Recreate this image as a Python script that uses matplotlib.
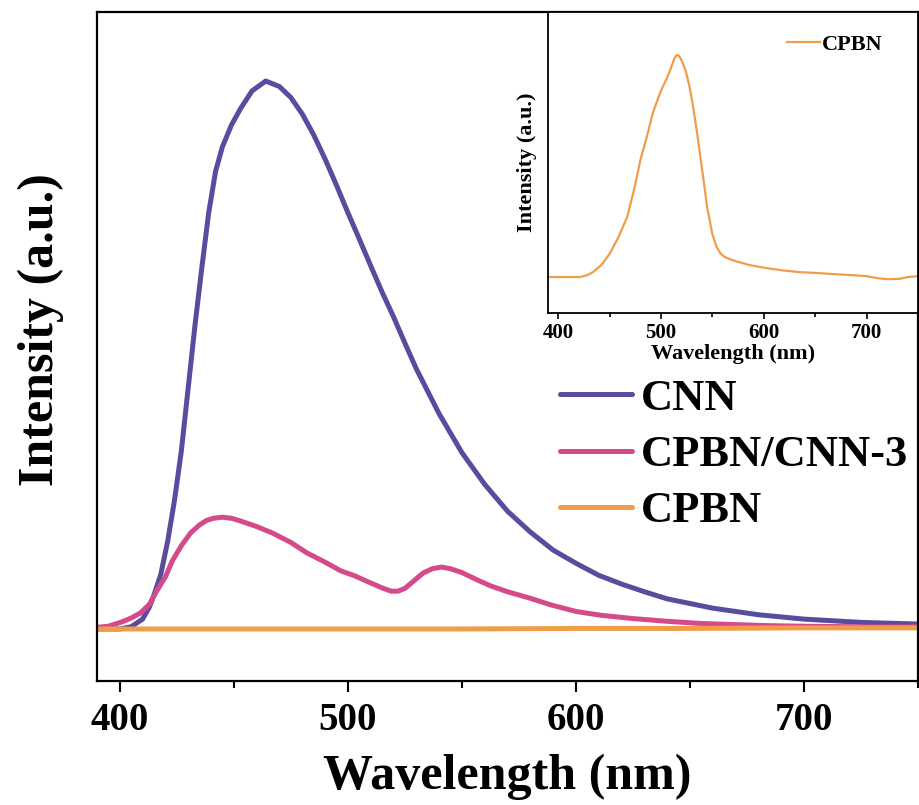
import matplotlib
matplotlib.use("Agg")
import matplotlib.pyplot as plt
from matplotlib.ticker import MultipleLocator

# ---- data (intensity in arbitrary units) ----
cnn_nm = [390, 400, 405, 410, 413, 415, 418, 421, 424, 427, 430, 433, 436, 439,
          442, 445, 449, 453, 458, 464, 470, 475, 480, 485, 490, 495, 500, 505,
          510, 515, 520, 525, 530, 540, 550, 560, 570, 580, 590, 600, 610, 620,
          630, 640, 660, 680, 700, 725, 750]
cnn_int = [0, 0, 4, 18, 40, 62, 100, 160, 235, 325, 440, 555, 660, 760,
           835, 880, 920, 950, 982, 1000, 990, 970, 940, 902, 858, 810, 760, 712,
           663, 615, 570, 522, 475, 393, 322, 264, 215, 177, 144, 120, 98, 82,
           68, 55, 38, 26, 18, 12, 9]

mix_nm = [390, 395, 401, 405, 409, 413, 416, 420, 423, 427, 431, 435, 438, 441,
          445, 449, 453, 460, 467, 475, 482, 490, 497, 503, 510, 515, 519, 522,
          525, 529, 533, 537, 541, 545, 550, 557, 563, 570, 580, 589, 600, 611,
          625, 640, 655, 670, 685, 700, 725, 750]
mix_int = [3, 5, 13, 20, 29, 45, 68, 95, 124, 152, 175, 190, 198, 202,
           204, 202, 197, 187, 175, 158, 139, 122, 106, 97, 84, 75, 69, 69,
           74, 88, 102, 110, 113, 110, 103, 89, 78, 68, 56, 44, 32, 25,
           19, 14, 10, 8, 6, 5, 4, 4]

cpbn_nm = [390, 450, 500, 550, 600, 650, 700, 750]
cpbn_int = [0, 0, 0, 0, 1, 1, 2, 2]

inset_nm = [390, 405, 421, 428, 434, 442, 450, 458, 467, 474, 480, 486, 492, 499,
            506, 509, 511, 513, 515, 517, 519, 521, 523, 525, 528, 531, 535, 540,
            545, 550, 554, 558, 562, 566, 575, 586, 600, 618, 635, 652, 668, 684,
            700, 710, 720, 732, 740, 750]
inset_int = [0.0, 0.0, 0.0, 0.008, 0.023, 0.055, 0.105, 0.175, 0.27, 0.40, 0.53, 0.63, 0.74, 0.83,
             0.90, 0.935, 0.96, 0.985, 1.0, 0.998, 0.985, 0.965, 0.94, 0.91, 0.85, 0.77, 0.65, 0.48,
             0.31, 0.19, 0.135, 0.105, 0.09, 0.082, 0.068, 0.054, 0.042, 0.030, 0.022, 0.018, 0.013, 0.009,
             0.004, -0.005, -0.010, -0.008, 0.0, 0.004]

labels = ["CNN", "CPBN/CNN-3", "CPBN"]
colors = ["#584c9e", "#d44a8b", "#f09d4b"]
xticks = [400, 500, 600, 700]

plt.rcParams["font.family"] = ["Liberation Serif", "DejaVu Serif"]
plt.rcParams["font.weight"] = "bold"

fig = plt.figure(figsize=(9.2, 8.05), dpi=100)

# main axes
ax = fig.add_axes([0.1054, 0.1540, 0.8924, 0.8311])
ax.plot(cnn_nm, cnn_int, color=colors[0], lw=3.6, label=labels[0], solid_capstyle="round", solid_joinstyle="round")
ax.plot(mix_nm, mix_int, color=colors[1], lw=3.6, label=labels[1], solid_capstyle="round", solid_joinstyle="round")
ax.plot(cpbn_nm, cpbn_int, color=colors[2], lw=3.6, label=labels[2], solid_capstyle="round")

ax.set_xlim(390, 750)
ax.set_ylim(-95, 1126)
ax.set_xticks(xticks)
ax.xaxis.set_minor_locator(MultipleLocator(50))
ax.set_yticks([])
ax.tick_params(axis="x", which="major", direction="out", length=8, width=1.5,
               labelsize=28, pad=7)
ax.tick_params(axis="x", which="minor", direction="out", length=5, width=1.5)
for lbl in ax.get_xticklabels():
    lbl.set_fontweight("bold")
for s in ax.spines.values():
    s.set_linewidth(1.6)
ax.set_xlabel("Wavelength (nm)", fontsize=36, fontweight="bold", labelpad=11)
ax.set_ylabel("Intensity (a.u.)", fontsize=36, fontweight="bold")
ax.yaxis.set_label_coords(-0.040, 0.525)

leg = ax.legend(loc="center left", bbox_to_anchor=(560 / 920, 1 - 455 / 805),
                bbox_transform=fig.transFigure, frameon=False, fontsize=32,
                handlelength=1.62, handletextpad=0.2, labelspacing=0.36,
                borderpad=0, borderaxespad=0)
for t in leg.get_texts():
    t.set_fontweight("bold")

# inset
ins = fig.add_axes([0.5957, 0.6112, 0.4022, 0.3739])
ins.set_facecolor("white")
ins.plot(inset_nm, inset_int, color=colors[2], lw=1.6, label="CPBN", solid_joinstyle="round")
ins.set_xlim(390, 750)
ins.set_ylim(-0.162, 1.194)
ins.set_xticks(xticks)
ins.xaxis.set_minor_locator(MultipleLocator(50))
ins.set_yticks([])
ins.tick_params(axis="x", which="major", direction="out", length=4, width=1.2,
                labelsize=15, pad=3)
ins.tick_params(axis="x", which="minor", direction="out", length=3, width=1.2)
for lbl in ins.get_xticklabels():
    lbl.set_fontweight("bold")
for s in ins.spines.values():
    s.set_linewidth(1.3)
ins.set_xlabel("Wavelength (nm)", fontsize=16, fontweight="bold", labelpad=1)
ins.set_ylabel("Intensity (a.u.)", fontsize=16, fontweight="bold", labelpad=8)
ileg = ins.legend(loc="upper right", bbox_to_anchor=(0.905, 0.927), frameon=False,
                  fontsize=16, handlelength=1.5, handletextpad=0.1,
                  borderpad=0, borderaxespad=0)
for t in ileg.get_texts():
    t.set_fontweight("bold")

fig.savefig("out.png", dpi=100)
